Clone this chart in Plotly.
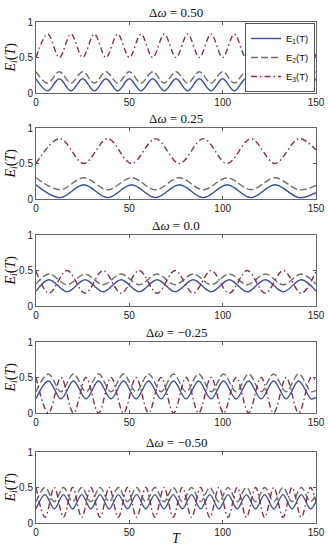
import plotly.graph_objects as go

# ---------------- data (extrema) ----------------
titles = ["Δ<i>ω</i> = 0.50", "Δ<i>ω</i> = 0.25", "Δ<i>ω</i> = 0.0",
          "Δ<i>ω</i> = −0.25", "Δ<i>ω</i> = −0.50"]

# Panel 1 : dw = 0.50
T_a = [0, 6.25, 12.5, 18.75, 25, 31.25, 37.5, 43.75, 50, 56.25, 62.5, 68.75, 75,
       81.25, 87.5, 93.75, 100, 106.25, 112.5, 118.75, 125, 131.25, 137.5, 143.75, 150]
E1_a = [0.2, 0.03, 0.2, 0.03, 0.2, 0.03, 0.2, 0.03, 0.2, 0.03, 0.2, 0.03, 0.2,
        0.03, 0.2, 0.03, 0.2, 0.03, 0.2, 0.03, 0.2, 0.03, 0.2, 0.03, 0.2]
E2_a = [0.3, 0.14, 0.3, 0.14, 0.3, 0.14, 0.3, 0.14, 0.3, 0.14, 0.3, 0.14, 0.3,
        0.14, 0.3, 0.14, 0.3, 0.14, 0.3, 0.14, 0.3, 0.14, 0.3, 0.14, 0.3]
E3_a = [0.5, 0.83, 0.5, 0.83, 0.5, 0.83, 0.5, 0.83, 0.5, 0.83, 0.5, 0.83, 0.5,
        0.83, 0.5, 0.83, 0.5, 0.83, 0.5, 0.83, 0.5, 0.83, 0.5, 0.83, 0.5]

# Panel 2 : dw = 0.25
T_b = [0, 12.8, 25.6, 38.4, 51.2, 64.0, 76.8, 89.6, 102.4, 115.2, 128.0, 140.8, 150]
E1_b = [0.2, 0.02, 0.2, 0.02, 0.2, 0.02, 0.2, 0.02, 0.2, 0.02, 0.2, 0.02, 0.09]
E2_b = [0.3, 0.13, 0.3, 0.13, 0.3, 0.13, 0.3, 0.13, 0.3, 0.13, 0.3, 0.13, 0.19]
E3_b = [0.5, 0.85, 0.5, 0.85, 0.5, 0.85, 0.5, 0.85, 0.5, 0.85, 0.5, 0.85, 0.69]

# Panel 3 : dw = 0.0
T_c = [0, 7, 16.65, 26.3, 35.95, 45.6, 55.25, 64.9, 74.55, 84.2, 93.85, 103.5,
       113.15, 122.8, 132.45, 142.1, 150]
E1_c = [0.21, 0.37, 0.2, 0.37, 0.2, 0.37, 0.2, 0.37, 0.2, 0.37, 0.2, 0.37,
        0.2, 0.37, 0.2, 0.37, 0.21]
E2_c = [0.31, 0.45, 0.3, 0.45, 0.3, 0.45, 0.3, 0.45, 0.3, 0.45, 0.3, 0.45,
        0.3, 0.45, 0.3, 0.45, 0.31]
E3_c = [0.49, 0.18, 0.5, 0.18, 0.5, 0.18, 0.5, 0.18, 0.5, 0.18, 0.5, 0.18,
        0.5, 0.18, 0.5, 0.18, 0.49]

# Panel 4 : dw = -0.25
T_d = [0, 6.7, 13.4, 20.1, 26.8, 33.5, 40.2, 46.9, 53.6, 60.3, 67, 73.7, 80.4,
       87.1, 93.8, 100.5, 107.2, 113.9, 120.6, 127.3, 134, 140.7, 147.4, 150]
E1_d = [0.2, 0.45, 0.2, 0.45, 0.2, 0.45, 0.2, 0.45, 0.2, 0.45, 0.2, 0.45, 0.2,
        0.45, 0.2, 0.45, 0.2, 0.45, 0.2, 0.45, 0.2, 0.45, 0.2, 0.22]
E2_d = [0.3, 0.55, 0.3, 0.55, 0.3, 0.55, 0.3, 0.55, 0.3, 0.55, 0.3, 0.55, 0.3,
        0.55, 0.3, 0.55, 0.3, 0.55, 0.3, 0.55, 0.3, 0.55, 0.3, 0.32]
E3_d = [0.5, 0.0, 0.5, 0.0, 0.5, 0.0, 0.5, 0.0, 0.5, 0.0, 0.5, 0.0, 0.5,
        0.0, 0.5, 0.0, 0.5, 0.0, 0.5, 0.0, 0.5, 0.0, 0.5, 0.46]

# Panel 5 : dw = -0.50
T_e = [0, 4.9, 9.8, 14.7, 19.6, 24.5, 29.4, 34.3, 39.2, 44.1, 49, 53.9, 58.8, 63.7,
       68.6, 73.5, 78.4, 83.3, 88.2, 93.1, 98, 102.9, 107.8, 112.7, 117.6, 122.5,
       127.4, 132.3, 137.2, 142.1, 147, 150]
E1_e = [0.2, 0.4, 0.2, 0.4, 0.2, 0.4, 0.2, 0.4, 0.2, 0.4, 0.2, 0.4, 0.2, 0.4, 0.2, 0.4,
        0.2, 0.4, 0.2, 0.4, 0.2, 0.4, 0.2, 0.4, 0.2, 0.4, 0.2, 0.4, 0.2, 0.4, 0.2, 0.3]
E2_e = [0.3, 0.5, 0.3, 0.5, 0.3, 0.5, 0.3, 0.5, 0.3, 0.5, 0.3, 0.5, 0.3, 0.5, 0.3, 0.5,
        0.3, 0.5, 0.3, 0.5, 0.3, 0.5, 0.3, 0.5, 0.3, 0.5, 0.3, 0.5, 0.3, 0.5, 0.3, 0.4]
E3_e = [0.5, 0.08, 0.5, 0.08, 0.5, 0.08, 0.5, 0.08, 0.5, 0.08, 0.5, 0.08, 0.5, 0.08,
        0.5, 0.08, 0.5, 0.08, 0.5, 0.08, 0.5, 0.08, 0.5, 0.08, 0.5, 0.08, 0.5, 0.08,
        0.5, 0.08, 0.5, 0.3]

x_ticks = [0, 50, 100, 150]
y_ticks = [0, 0.5, 1]
y_ticklabels = ["0", "0.5", "1"]
series_names = ["E<sub>1</sub>(T)", "E<sub>2</sub>(T)", "E<sub>3</sub>(T)"]

panels = [(T_a, E1_a, E2_a, E3_a), (T_b, E1_b, E2_b, E3_b), (T_c, E1_c, E2_c, E3_c),
          (T_d, E1_d, E2_d, E3_d), (T_e, E1_e, E2_e, E3_e)]

# ---------------- style / layout ----------------
W, H = 328, 550
X0, X1 = 36, 316
TOPS = [22, 128, 235, 342, 452]
PH = 71
COLORS = ["#3c4fa8", "#6b6f68", "#8c2d44"]
DASHES = ["solid", "7px,3px", "6px,3px,1.5px,3px"]
SERIF = "Liberation Serif, Times New Roman, serif"
SANS = "Liberation Sans, Arial, sans-serif"

fig = go.Figure()
layout = dict(width=W, height=H, margin=dict(l=0, r=0, t=0, b=0),
              paper_bgcolor="white", plot_bgcolor="white", template="none",
              showlegend=True,
              legend=dict(x=X1 / W - 0.003, y=1 - (TOPS[0] + 1) / H, xanchor="right", yanchor="top",
                          bgcolor="white", bordercolor="#555", borderwidth=1,
                          font=dict(family=SANS, size=9.5, color="#111"),
                          itemwidth=30, tracegroupgap=0),
              annotations=[])

for i, (T, e1, e2, e3) in enumerate(panels):
    n = "" if i == 0 else str(i + 1)
    for k, ys in enumerate([e1, e2, e3]):
        fig.add_trace(go.Scatter(
            x=T, y=ys, mode="lines", name=series_names[k], showlegend=(i == 0),
            line=dict(color=COLORS[k], width=1.4, dash=DASHES[k], shape="spline", smoothing=1.0),
            xaxis="x" + n, yaxis="y" + n))
    top = TOPS[i]
    bot = top + PH
    dom_y = [1 - bot / H, 1 - top / H]
    layout["xaxis" + n] = dict(domain=[X0 / W, X1 / W], anchor="y" + n, range=[0, 150],
                               tickvals=x_ticks, ticks="inside", ticklen=3, tickcolor="#555",
                               showline=True, linecolor="#666", linewidth=1, mirror="ticks",
                               showgrid=False, zeroline=False, automargin=False,
                               tickfont=dict(family=SANS, size=10, color="#222"))
    layout["yaxis" + n] = dict(domain=dom_y, anchor="x" + n, range=[0, 1],
                               tickvals=y_ticks, ticktext=y_ticklabels, ticks="inside",
                               ticklen=3, tickcolor="#555",
                               showline=True, linecolor="#666", linewidth=1, mirror="ticks",
                               showgrid=False, zeroline=False, automargin=False,
                               tickfont=dict(family=SANS, size=10, color="#222"))
    layout["annotations"].append(dict(
        text=titles[i], x=(X0 + X1) / 2 / W, y=1 - (top - 10) / H, xref="paper", yref="paper",
        xanchor="center", yanchor="middle", showarrow=False,
        font=dict(family=SERIF, size=13, color="#111")))
    layout["annotations"].append(dict(
        text="<i>E<sub>i</sub></i>(<i>T</i>)", x=11 / W, y=1 - (top + PH / 2) / H,
        xref="paper", yref="paper", xanchor="center", yanchor="middle", textangle=-90,
        showarrow=False, font=dict(family=SERIF, size=14, color="#111")))

layout["annotations"].append(dict(
    text="<i>T</i>", x=(X0 + X1) / 2 / W, y=1 - 538 / H, xref="paper", yref="paper",
    xanchor="center", yanchor="middle", showarrow=False,
    font=dict(family=SERIF, size=14, color="#111")))

fig.update_layout(**layout)
fig.write_html("out.html", config={"displayModeBar": False, "staticPlot": True},
               post_script="document.body.style.margin='0';document.body.style.overflow='hidden';")
